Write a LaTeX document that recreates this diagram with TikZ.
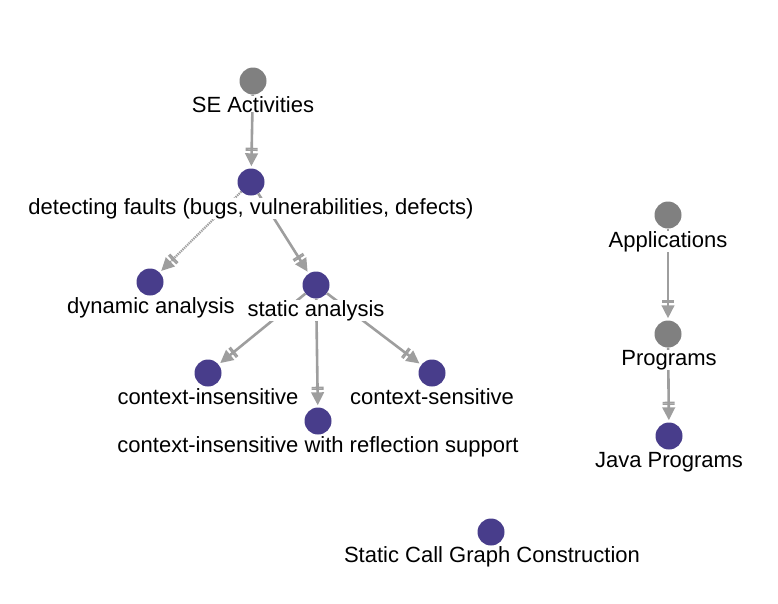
\documentclass[tikz,border=0pt]{standalone}
\usepackage{fontspec}
\setmainfont{Liberation Sans}
\usetikzlibrary{arrows.meta,backgrounds}
\definecolor{vgrey}{HTML}{808080}
\definecolor{vpurple}{HTML}{483D8B}
\definecolor{egrey}{HTML}{9E9E9E}
\tikzset{
  gdot/.style={circle,fill=vgrey,draw=none,minimum size=27pt,inner sep=0pt},
  pdot/.style={circle,fill=vpurple,draw=none,minimum size=27pt,inner sep=0pt},
  lbl/.style={anchor=base,font=\fontsize{22}{26}\selectfont,fill=white,inner sep=0pt,text=black},
  conn/.style={draw=egrey,line width=2.6pt,
    -{Bar[width=12pt,line width=1.6pt,sep=0pt]Bar[width=12pt,line width=1.6pt,sep=2.4pt]Triangle[length=13pt,width=12.5pt,sep=2pt]}},
  dotconn/.style={conn,dash pattern=on 1.3pt off 0.9pt,line width=2.2pt}
}
\begin{document}
\begin{tikzpicture}[x=1pt,y=-1pt]
\useasboundingbox (0,0) rectangle (778,603);
% circles
\node[gdot] (se) at (253,81) {};
\node[pdot] (df) at (251,182) {};
\node[pdot] (da) at (150,282) {};
\node[pdot] (sa) at (316,285) {};
\node[pdot] (ci) at (208,373) {};
\node[pdot] (cr) at (318,421) {};
\node[pdot] (cs) at (432,373) {};
\node[gdot] (ap) at (668,215) {};
\node[gdot] (pr) at (668,334) {};
\node[pdot] (jp) at (669,436) {};
\node[pdot] (sc) at (491,532) {};
% labels
\node[lbl] (sel) at (253,112) {SE Activities};
\node[lbl] (dfl) at (251,214) {detecting faults (bugs, vulnerabilities, defects)};
\node[lbl] (dal) at (151,313) {dynamic analysis};
\node[lbl] (sal) at (316,316) {static analysis};
\node[lbl] (cil) at (208,404) {context-insensitive};
\node[lbl] (crl) at (318,452) {context-insensitive with reflection support};
\node[lbl] (csl) at (432,404) {context-sensitive};
\node[lbl] (apl) at (668,247) {Applications};
\node[lbl] (prl) at (669,365) {Programs};
\node[lbl] (jpl) at (669,467) {Java Programs};
\node[lbl] (scl) at (492,562) {Static Call Graph Construction};
% edges
\begin{scope}[on background layer]
\draw[conn] (se) -- (df);
\draw[dotconn] (df) -- (da);
\draw[conn] (df) -- (sa);
\draw[conn] (sa) -- (ci);
\draw[conn] (sa) -- (cr);
\draw[conn] (sa) -- (cs);
\draw[conn] (ap) -- (pr);
\draw[conn] (pr) -- (jp);
\end{scope}
\end{tikzpicture}
\end{document}
